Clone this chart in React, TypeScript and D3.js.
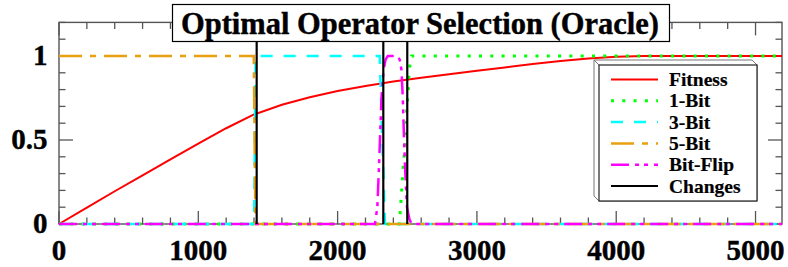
import React from "react";
import * as d3 from "d3";

const W = 788;
const H = 267;

const titleText = "Optimal Operator Selection (Oracle)";
const xTicks = [0, 1000, 2000, 3000, 4000, 5000];
const yTicks = [0, 0.5, 1];
const yTickLabels = ["0", "0.5", "1"];
const xMax = 5190;

const fitnessX = [0, 200, 400, 600, 800, 1000, 1200, 1400, 1600, 1800, 2000, 2200, 2400, 2600, 2800, 3000, 3200, 3400, 3600, 3800, 4000, 4200, 4600, 5190];
const fitnessY = [0.0, 0.097, 0.195, 0.29, 0.385, 0.478, 0.57, 0.652, 0.71, 0.755, 0.792, 0.822, 0.848, 0.87, 0.892, 0.912, 0.932, 0.952, 0.97, 0.985, 0.995, 1.0, 1.0, 1.0];

const oneBitX = [0, 2443, 2460, 2472, 2491, 2496, 2507, 2514, 2531, 5190];
const oneBitY = [0, 0, 0.2, 0.36, 0.52, 0.68, 0.8, 0.92, 1, 1];

const threeBitX = [0, 1400, 1412, 2302, 2340, 5190];
const threeBitY = [0, 0, 1, 1, 0, 0];

const fiveBitX = [0, 1398, 1410, 5190];
const fiveBitY = [1, 1, 0, 0];

const bitFlipX = [0, 2268, 2285, 2295, 2304, 2315, 2330, 2345, 2360, 2430, 2445, 2458, 2468, 2477, 2486, 2498, 2515, 2531, 5190];
const bitFlipY = [0, 0, 0.1, 0.3, 0.5, 0.75, 0.92, 0.98, 1, 1, 0.98, 0.92, 0.75, 0.5, 0.3, 0.1, 0.03, 0, 0];

const changes = [1419, 2328, 2500];

const seriesNames = ["Fitness", "1-Bit", "3-Bit", "5-Bit", "Bit-Flip", "Changes"];
const seriesColors = ["#ff0000", "#00ff00", "#00ffff", "#e8a010", "#ff00ff", "#000000"];
const seriesDash = ["", "3,8.3", "12,11", "23,8,6,8", "18,6,4,5,4,6", ""];
const seriesWidth = [2, 3, 2.5, 2.5, 2.5, 2];

const FONT = "'Liberation Serif', 'Times New Roman', serif";

export default function App() {
  const left = 59, right = 782, top = 22.4, bottom = 224;
  const x = d3.scaleLinear().domain([0, xMax]).range([left, right]);
  const y = d3.scaleLinear().domain([0, 1.2]).range([bottom, top]);

  const line = d3.line<[number, number]>().x(d => x(d[0])).y(d => y(d[1]));
  const zip = (xs: number[], ys: number[]) => xs.map((v, i) => [v, ys[i]] as [number, number]);

  const series = [
    zip(fitnessX, fitnessY),
    zip(oneBitX, oneBitY),
    zip(threeBitX, threeBitY),
    zip(fiveBitX, fiveBitY),
    zip(bitFlipX, bitFlipY),
  ];

  const xMinor = d3.range(0, xMax + 1, 200);
  const yMinor = d3.range(0, 1.2001, 0.1);
  const axisColor = "#555";

  const legX = 599, legY = 65, legW = 158, legH = 136, off = 5;
  const rowY = (i: number) => 79.5 + i * 21.3;

  return (
    <svg width={W} height={H} style={{ position: "absolute", left: 0, top: 0 }}>
      <rect x={0} y={0} width={W} height={H} fill="#fff" />
      {/* frame */}
      <rect x={left} y={top} width={right - left} height={bottom - top} fill="none" stroke={axisColor} strokeWidth={1.4} />
      {/* ticks */}
      {xMinor.map(v => {
        const major = v % 1000 === 0;
        const len = major ? 13 : 6.5;
        return (
          <g key={"xt" + v}>
            <line x1={x(v)} x2={x(v)} y1={bottom} y2={bottom - len} stroke={axisColor} strokeWidth={1.3} />
            <line x1={x(v)} x2={x(v)} y1={top} y2={top + len} stroke={axisColor} strokeWidth={1.3} />
          </g>
        );
      })}
      {yMinor.map((v, i) => {
        const major = i % 5 === 0;
        const len = major ? 14 : 6.5;
        return (
          <g key={"yt" + i}>
            <line x1={left} x2={left + len} y1={y(v)} y2={y(v)} stroke={axisColor} strokeWidth={1.3} />
            <line x1={right} x2={right - len} y1={y(v)} y2={y(v)} stroke={axisColor} strokeWidth={1.3} />
          </g>
        );
      })}
      {/* tick labels */}
      {xTicks.map(v => (
        <text key={"xl" + v} x={x(v)} y={260} textAnchor="middle" fontFamily={FONT} fontWeight="bold" fontSize={29} stroke="#000" strokeWidth={0.4}>
          {String(v)}
        </text>
      ))}
      {yTicks.map((v, i) => (
        <text key={"yl" + v} x={47.5} y={y(v) + 9} textAnchor="end" fontFamily={FONT} fontWeight="bold" fontSize={29} stroke="#000" strokeWidth={0.4}>
          {yTickLabels[i]}
        </text>
      ))}
      {/* series */}
      {series.map((s, i) => (
        <path key={"s" + i} d={line(s) || ""} fill="none" stroke={seriesColors[i]} strokeWidth={seriesWidth[i]} strokeDasharray={seriesDash[i] || undefined} />
      ))}
      {changes.map((c, i) => (
        <line key={"c" + i} x1={x(c)} x2={x(c)} y1={top} y2={bottom} stroke="#000" strokeWidth={2.2} />
      ))}
      {/* legend */}
      <polygon
        points={`${legX - off},${legY - off} ${legX + legW - off},${legY - off} ${legX + legW},${legY} ${legX + legW},${legY + legH} ${legX},${legY + legH} ${legX - off},${legY + legH - off}`}
        fill="#fff" stroke="#777" strokeWidth={1} />
      <line x1={legX - off} y1={legY - off} x2={legX} y2={legY} stroke="#777" strokeWidth={1} />
      <rect x={legX} y={legY} width={legW} height={legH} fill="#fff" stroke="#222" strokeWidth={1.2} />
      {seriesNames.map((n, i) => (
        <g key={"lg" + i}>
          <line x1={611} x2={658} y1={rowY(i)} y2={rowY(i)} stroke={seriesColors[i]} strokeWidth={seriesWidth[i]} strokeDasharray={seriesDash[i] || undefined} />
          <text x={669} y={rowY(i) + 6.5} fontFamily={FONT} fontWeight="bold" fontSize={19.5} stroke="#000" strokeWidth={0.2}>{n}</text>
        </g>
      ))}
      {/* title */}
      <rect x={172.5} y={4.5} width={497} height={37} fill="#fff" stroke="#000" strokeWidth={1.2} />
      <text x={420} y={33.5} textAnchor="middle" fontFamily={FONT} fontWeight="bold" fontSize={30.5} stroke="#000" strokeWidth={0.4}>{titleText}</text>
    </svg>
  );
}
